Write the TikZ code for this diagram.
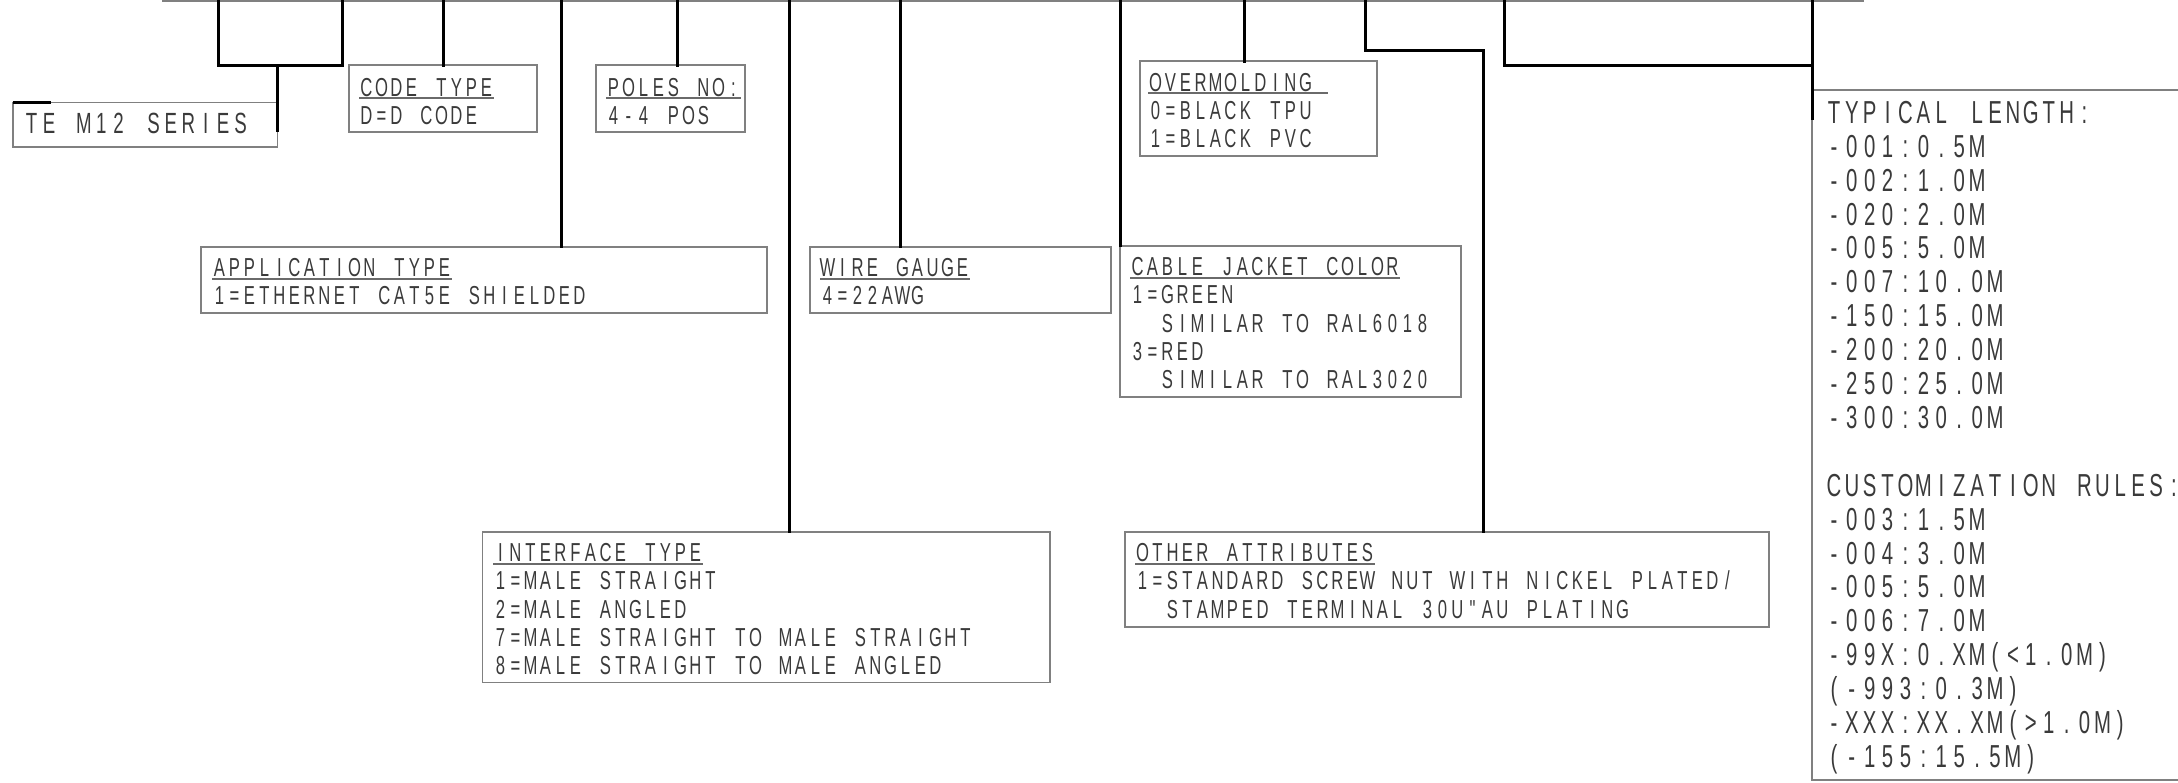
\documentclass[tikz,border=0pt]{standalone}
\usepackage{fontspec}
\usetikzlibrary{fit}
\newfontfamily\cadfont[FakeStretch=0.64]{Liberation Sans}
\definecolor{frm}{HTML}{808080}
\definecolor{txtc}{HTML}{3A3A3A}
\definecolor{uln}{HTML}{6A6A6A}
\newlength\cw
\def\mq{\mq}
\def\monoA#1{\ifx#1\mq\else\hbox to\cw{\hss#1\hss}\expandafter\monoA\fi}
\newcommand\mono[1]{\monoA#1\mq}
\newcommand\xmono[1]{\expandafter\mono\expandafter{#1}}
\newcommand\ttl[1]{\setbox0\hbox{\mono{#1}}\rlap{\color{uln}\rule[-1.4pt]{\wd0}{0.7pt}}\box0}
\newcommand\fR{\cadfont\fontsize{13pt}{15pt}\selectfont\setlength\cw{7.5pt}}
\newcommand\fT{\cadfont\fontsize{14.6pt}{16pt}\selectfont\setlength\cw{8.7pt}}
\newcommand\fL{\cadfont\fontsize{15.9pt}{17pt}\selectfont\setlength\cw{8.95pt}}
\tikzset{
  lead/.style={line width=1.5pt, draw=black, line cap=rect},
  frame/.style={draw=frm, line width=0.8pt, inner sep=0pt, outer sep=0pt, rectangle},
  topline/.style={draw=frm, line width=1pt},
  txt/.style={inner sep=0pt, outer sep=0pt, anchor=base west, text=txtc, font=\fR},
  txtT/.style={txt, font=\fT},
  txtL/.style={txt, font=\fL},
}
\begin{document}
\begin{tikzpicture}[x=0.5pt, y=-0.5pt]
\useasboundingbox (0,0) rectangle (2178,782);
% top line
\coordinate (tl0) at (162,1);
\coordinate (tl1) at (1864,1);
\draw[topline] (tl0) -- (tl1);

% boxes
\node[frame, fit={(12.7,102.3) (277.3,146.7)}] (te) {};
\node[frame, fit={(349,65) (537,131.7)}] (code) {};
\node[frame, fit={(596,65) (745,131.7)}] (poles) {};
\node[frame, fit={(201,246.7) (767,312.7)}] (app) {};
\node[frame, fit={(810,246.7) (1111,312.7)}] (wire) {};
\node[frame, fit={(1120,245.7) (1461,396.7)}] (cable) {};
\node[frame, fit={(1140,61) (1377,156)}] (over) {};
\node[frame, fit={(482.5,531.7) (1050,682.3)}] (intf) {};
\node[frame, fit={(1125,531.7) (1769,626.7)}] (other) {};
\node[inner sep=0pt, outer sep=0pt, fit={(1812,90) (2178,780)}] (len) {};
\draw[frm, line width=0.8pt] ([xshift=5pt]len.north east) -- (len.north west) -- (len.south west) -- ([xshift=5pt]len.south east);

% leads
\coordinate (b1a) at (218,0);
\coordinate (b1b) at (218,65.7);
\coordinate (b1c) at (342,65.7);
\coordinate (b1d) at (342,0);
\coordinate (b1m) at (277.3,65.7);
\coordinate (te-end) at (277.3,130);
\draw[lead] (b1a) -- (b1b) -- (b1c) -- (b1d);
\draw[lead] (b1m) -- (te-end);
\draw[lead, line cap=butt] (te.north west) -- ++(38,0);

\coordinate (t2) at (443.5,0);
\draw[lead] (t2) -- (t2 |- code.north);
\coordinate (t3) at (561,0);
\draw[lead] (t3) -- (t3 |- app.north);
\coordinate (t4) at (677,0);
\draw[lead] (t4) -- (t4 |- poles.north);
\coordinate (t5) at (789,0);
\draw[lead] (t5) -- (t5 |- intf.north);
\coordinate (t6) at (900,0);
\draw[lead] (t6) -- (t6 |- wire.north);
\coordinate (t7) at (1120.5,0);
\draw[lead] (t7) -- (t7 |- cable.north);
\coordinate (t8) at (1244.5,0);
\draw[lead] (t8) -- (t8 |- over.north);
\coordinate (t9) at (1365,0);
\coordinate (b9a) at (1365,50);
\coordinate (b9b) at (1483,50);
\draw[lead] (t9) -- (b9a) -- (b9b) -- (b9b |- other.north);
\coordinate (t10) at (1504,0);
\coordinate (b10a) at (1504,65.7);
\coordinate (b10b) at (1812,65.7);
\draw[lead] (t10) -- (b10a) -- (b10b);
\coordinate (t11) at (1812,0);
\coordinate (len-end) at (1812,118);
\draw[lead] (t11) -- (len-end);

% texts
\node[txtT] (te-1) at (23,133) {\mono{TE~M12~SERIES}};

\node[txt] (code-1) at (359,96) {\ttl{CODE~TYPE}};
\node[txt] (code-2) at (359,124.2) {\mono{D=D~CODE}};

\node[txt] (poles-1) at (606,96) {\ttl{POLES~NO:}};
\node[txt] (poles-2) at (606,124.2) {\mono{4-4~POS}};

\node[txt] (app-1) at (212,276.7) {\ttl{APPLICATION~TYPE}};
\node[txt] (app-2) at (212,304.9) {\mono{1=ETHERNET~CAT5E~SHIELDED}};

\node[txt] (wire-1) at (820,276.7) {\ttl{WIRE~GAUGE}};
\node[txt] (wire-2) at (820,304.9) {\mono{4=22AWG}};

\node[txt] (cable-1) at (1130,275.7) {\ttl{CABLE~JACKET~COLOR}};
\node[txt] (cable-2) at (1130,303.9) {\mono{1=GREEN}};
\node[txt] (cable-3) at (1130,332.1) {\mono{~~SIMILAR~TO~RAL6018}};
\node[txt] (cable-4) at (1130,360.3) {\mono{3=RED}};
\node[txt] (cable-5) at (1130,388.5) {\mono{~~SIMILAR~TO~RAL3020}};

\node[txt] (over-1) at (1148,91) {\ttl{OVERMOLDING~}};
\node[txt] (over-2) at (1148,119.2) {\mono{0=BLACK~TPU}};
\node[txt] (over-3) at (1148,147.4) {\mono{1=BLACK~PVC}};

\node[txt] (intf-1) at (493,561.7) {\ttl{INTERFACE~TYPE}};
\node[txt] (intf-2) at (493,589.9) {\mono{1=MALE~STRAIGHT}};
\node[txt] (intf-3) at (493,618.1) {\mono{2=MALE~ANGLED}};
\node[txt] (intf-4) at (493,646.3) {\mono{7=MALE~STRAIGHT~TO~MALE~STRAIGHT}};
\node[txt] (intf-5) at (493,674.5) {\mono{8=MALE~STRAIGHT~TO~MALE~ANGLED}};

\node[txt] (other-1) at (1135,561.7) {\ttl{OTHER~ATTRIBUTES}};
\node[txt] (other-2) at (1135,589.9) {\mono{1=STANDARD~SCREW~NUT~WITH~NICKEL~PLATED/}};
\node[txt] (other-3) at (1135,618.1) {\mono{~~STAMPED~TERMINAL~30U"AU~PLATING}};

\foreach \t [count=\i from 0] in {TYPICAL~LENGTH:, -001:0.5M, -002:1.0M, -020:2.0M, -005:5.0M, -007:10.0M, -150:15.0M, -200:20.0M, -250:25.0M, -300:30.0M}
  \node[txtL] (len-a\i) at (1825,123.3+33.9*\i) {\xmono{\t}};
\foreach \t [count=\i from 0] in {CUSTOMIZATION~RULES:, -003:1.5M, -004:3.0M, -005:5.0M, -006:7.0M, -99X:0.XM(<1.0M), (-993:0.3M), -XXX:XX.XM(>1.0M), (-155:15.5M)}
  \node[txtL] (len-b\i) at (1825,496.2+33.9*\i) {\xmono{\t}};
\end{tikzpicture}
\end{document}
